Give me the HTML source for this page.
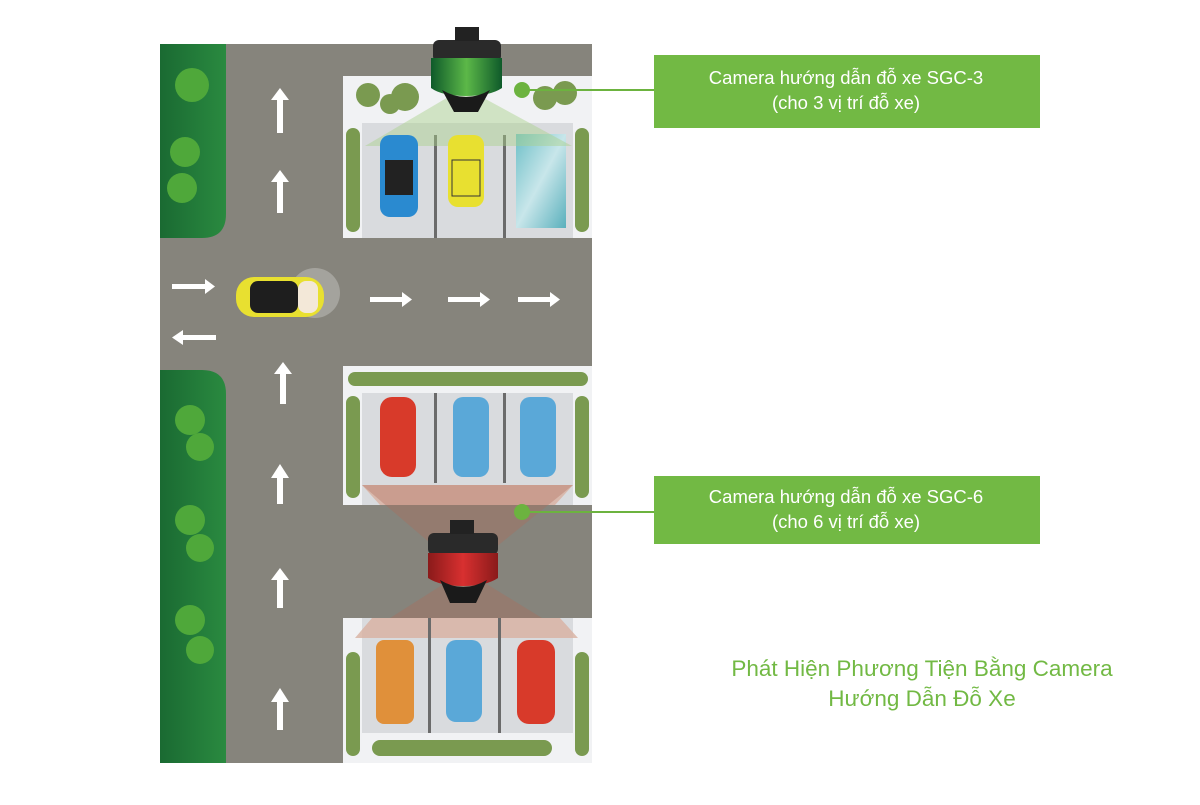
<!DOCTYPE html>
<html><head><meta charset="utf-8"><style>
body{margin:0;background:#fff;width:1200px;height:800px;overflow:hidden;font-family:"Liberation Sans","Noto Sans CJK SC",sans-serif}
</style></head><body>
<svg width="1200" height="800" viewBox="0 0 1200 800" xmlns="http://www.w3.org/2000/svg">
<defs>
<linearGradient id="gr" x1="0" y1="0" x2="1" y2="0"><stop offset="0" stop-color="#1a6a32"/><stop offset="1" stop-color="#2a8a40"/></linearGradient>
<linearGradient id="cg" x1="0" y1="0" x2="1" y2="0"><stop offset="0" stop-color="#0e5a2a"/><stop offset=".5" stop-color="#5cb848"/><stop offset="1" stop-color="#0e5a2a"/></linearGradient>
<linearGradient id="cr" x1="0" y1="0" x2="1" y2="0"><stop offset="0" stop-color="#8a1a1a"/><stop offset=".5" stop-color="#d83030"/><stop offset="1" stop-color="#8a1a1a"/></linearGradient>
<linearGradient id="gl" x1="0" y1="0" x2="1" y2="1"><stop offset="0" stop-color="#6fc0c8"/><stop offset=".5" stop-color="#c8e6ea"/><stop offset="1" stop-color="#5ab0bc"/></linearGradient>
</defs>
<rect x="160" y="44" width="432" height="719" fill="#86847c"/>
<path d="M160 44H226V214Q226 238 202 238H160Z" fill="url(#gr)"/>
<path d="M160 370H202Q226 370 226 394V763H160Z" fill="url(#gr)"/>
<g fill="#4fa83a">
<circle cx="192" cy="85" r="17"/><circle cx="185" cy="152" r="15"/><circle cx="182" cy="188" r="15"/>
<circle cx="190" cy="420" r="15"/><circle cx="200" cy="447" r="14"/><circle cx="190" cy="520" r="15"/><circle cx="200" cy="548" r="14"/><circle cx="190" cy="620" r="15"/><circle cx="200" cy="650" r="14"/>
</g>
<rect x="343" y="76" width="249" height="162" fill="#f1f2f4"/>
<rect x="362" y="123" width="211" height="115" fill="#d9dbde"/>
<rect x="434" y="135" width="3" height="103" fill="#6b6b6b"/><rect x="503" y="135" width="3" height="103" fill="#6b6b6b"/>
<rect x="516" y="134" width="50" height="94" fill="url(#gl)"/>
<polygon points="365,146 450,96 480,96 572,146" fill="#a8d08a" opacity=".45"/>
<rect x="380" y="135" width="38" height="82" rx="10" fill="#2a8ad0"/><rect x="385" y="160" width="28" height="35" fill="#222"/>
<rect x="448" y="135" width="36" height="72" rx="10" fill="#e8e030"/><rect x="452" y="160" width="28" height="36" fill="#e8e030" stroke="#333"/>
<g fill="#7a9a50"><circle cx="368" cy="95" r="12"/><circle cx="405" cy="97" r="14"/><circle cx="390" cy="104" r="10"/><circle cx="545" cy="98" r="12"/><circle cx="565" cy="93" r="12"/>
<rect x="346" y="128" width="14" height="104" rx="7"/><rect x="575" y="128" width="14" height="104" rx="7"/></g>
<rect x="343" y="366" width="249" height="139" fill="#f1f2f4"/>
<rect x="362" y="393" width="211" height="112" fill="#d9dbde"/>
<rect x="434" y="393" width="3" height="90" fill="#6b6b6b"/><rect x="503" y="393" width="3" height="90" fill="#6b6b6b"/>
<g fill="#7a9a50"><rect x="346" y="396" width="14" height="102" rx="7"/><rect x="575" y="396" width="14" height="102" rx="7"/>
<rect x="348" y="372" width="240" height="14" rx="7"/></g>
<rect x="380" y="397" width="36" height="80" rx="12" fill="#d83a2a"/>
<rect x="453" y="397" width="36" height="80" rx="10" fill="#5aa8d8"/><rect x="520" y="397" width="36" height="80" rx="10" fill="#5aa8d8"/>
<polygon points="362,485 573,485 555,505 380,505" fill="#d8b0a0" opacity=".8"/>
<polygon points="362,485 573,485 480,560 450,560" fill="#b06a5a" opacity=".35"/>
<polygon points="360,637 573,637 480,580 450,580" fill="#b06a5a" opacity=".35"/>
<rect x="343" y="618" width="249" height="145" fill="#f1f2f4"/>
<rect x="362" y="618" width="211" height="115" fill="#d9dbde"/>
<polygon points="355,638 578,638 560,618 372,618" fill="#d8b0a0" opacity=".8"/>
<rect x="428" y="618" width="3" height="115" fill="#6b6b6b"/><rect x="498" y="618" width="3" height="115" fill="#6b6b6b"/>
<rect x="376" y="640" width="38" height="84" rx="8" fill="#e0903a"/>
<rect x="446" y="640" width="36" height="82" rx="10" fill="#5aa8d8"/><rect x="517" y="640" width="38" height="84" rx="12" fill="#d83a2a"/>
<g fill="#7a9a50"><rect x="346" y="652" width="14" height="104" rx="7"/><rect x="575" y="652" width="14" height="104" rx="7"/>
<rect x="372" y="740" width="180" height="16" rx="8"/></g>
<rect x="433" y="40" width="68" height="22" rx="6" fill="#2a2a2a"/><rect x="455" y="27" width="24" height="14" fill="#222"/>
<path d="M431 58H502V88Q490 96 466 96Q442 96 431 88Z" fill="url(#cg)"/>
<path d="M442 90Q466 104 490 90L478 112H454Z" fill="#1a1a1a"/>
<rect x="428" y="533" width="70" height="22" rx="6" fill="#2a2a2a"/><rect x="450" y="520" width="24" height="14" fill="#222"/>
<path d="M428 553H498V578Q486 586 463 586Q440 586 428 578Z" fill="url(#cr)"/>
<path d="M440 580Q463 594 487 580L476 603H450Z" fill="#1a1a1a"/>
<ellipse cx="315" cy="293" rx="25" ry="25" fill="#fff" opacity=".25"/>
<rect x="236" y="277" width="88" height="40" rx="18" fill="#e8e030"/>
<rect x="250" y="281" width="48" height="32" rx="8" fill="#1e1e1e"/><rect x="298" y="281" width="20" height="32" rx="8" fill="#f3e8d8"/>
<g fill="#fff">
<rect x="277" y="98" width="6" height="35"/><polygon points="271,100 280,88 289,100"/>
<rect x="277" y="180" width="6" height="33"/><polygon points="271,182 280,170 289,182"/>
<rect x="277" y="476" width="6" height="28"/><polygon points="271,478 280,464 289,478"/>
<rect x="277" y="700" width="6" height="30"/><polygon points="271,702 280,688 289,702"/>
<rect x="280" y="372" width="6" height="32"/><polygon points="274,374 283,362 292,374"/>
<rect x="277" y="578" width="6" height="30"/><polygon points="271,580 280,568 289,580"/>
<rect x="370" y="297" width="34" height="5"/><polygon points="402,292 412,299.5 402,307"/>
<rect x="448" y="297" width="34" height="5"/><polygon points="480,292 490,299.5 480,307"/>
<rect x="518" y="297" width="34" height="5"/><polygon points="550,292 560,299.5 550,307"/>
<rect x="172" y="284" width="36" height="5"/><polygon points="205,279 215,286.5 205,294"/>
<rect x="180" y="335" width="36" height="5"/><polygon points="183,330 172,337.5 183,345"/>
</g>
<line x1="522" y1="90" x2="654" y2="90" stroke="#6cb33f" stroke-width="2"/><circle cx="522" cy="90" r="8" fill="#6cb33f"/>
<line x1="522" y1="512" x2="654" y2="512" stroke="#6cb33f" stroke-width="2"/><circle cx="522" cy="512" r="8" fill="#6cb33f"/>
<rect x="654" y="55" width="386" height="73" fill="#72b944"/>
<rect x="654" y="476" width="386" height="68" fill="#72b944"/>
<g fill="#fff" font-size="18.5" text-anchor="middle" font-family="Liberation Sans, sans-serif">
<text x="846" y="84">Camera hướng dẫn đỗ xe SGC-3</text><text x="846" y="109">(cho 3 vị trí đỗ xe)</text>
<text x="846" y="503">Camera hướng dẫn đỗ xe SGC-6</text><text x="846" y="528">(cho 6 vị trí đỗ xe)</text>
</g>
<g fill="#72b944" font-size="22.5" text-anchor="middle" font-family="Liberation Sans, sans-serif">
<text x="922" y="676">Phát Hiện Phương Tiện Bằng Camera</text><text x="922" y="706">Hướng Dẫn Đỗ Xe</text>
</g>
</svg>
</body></html>
